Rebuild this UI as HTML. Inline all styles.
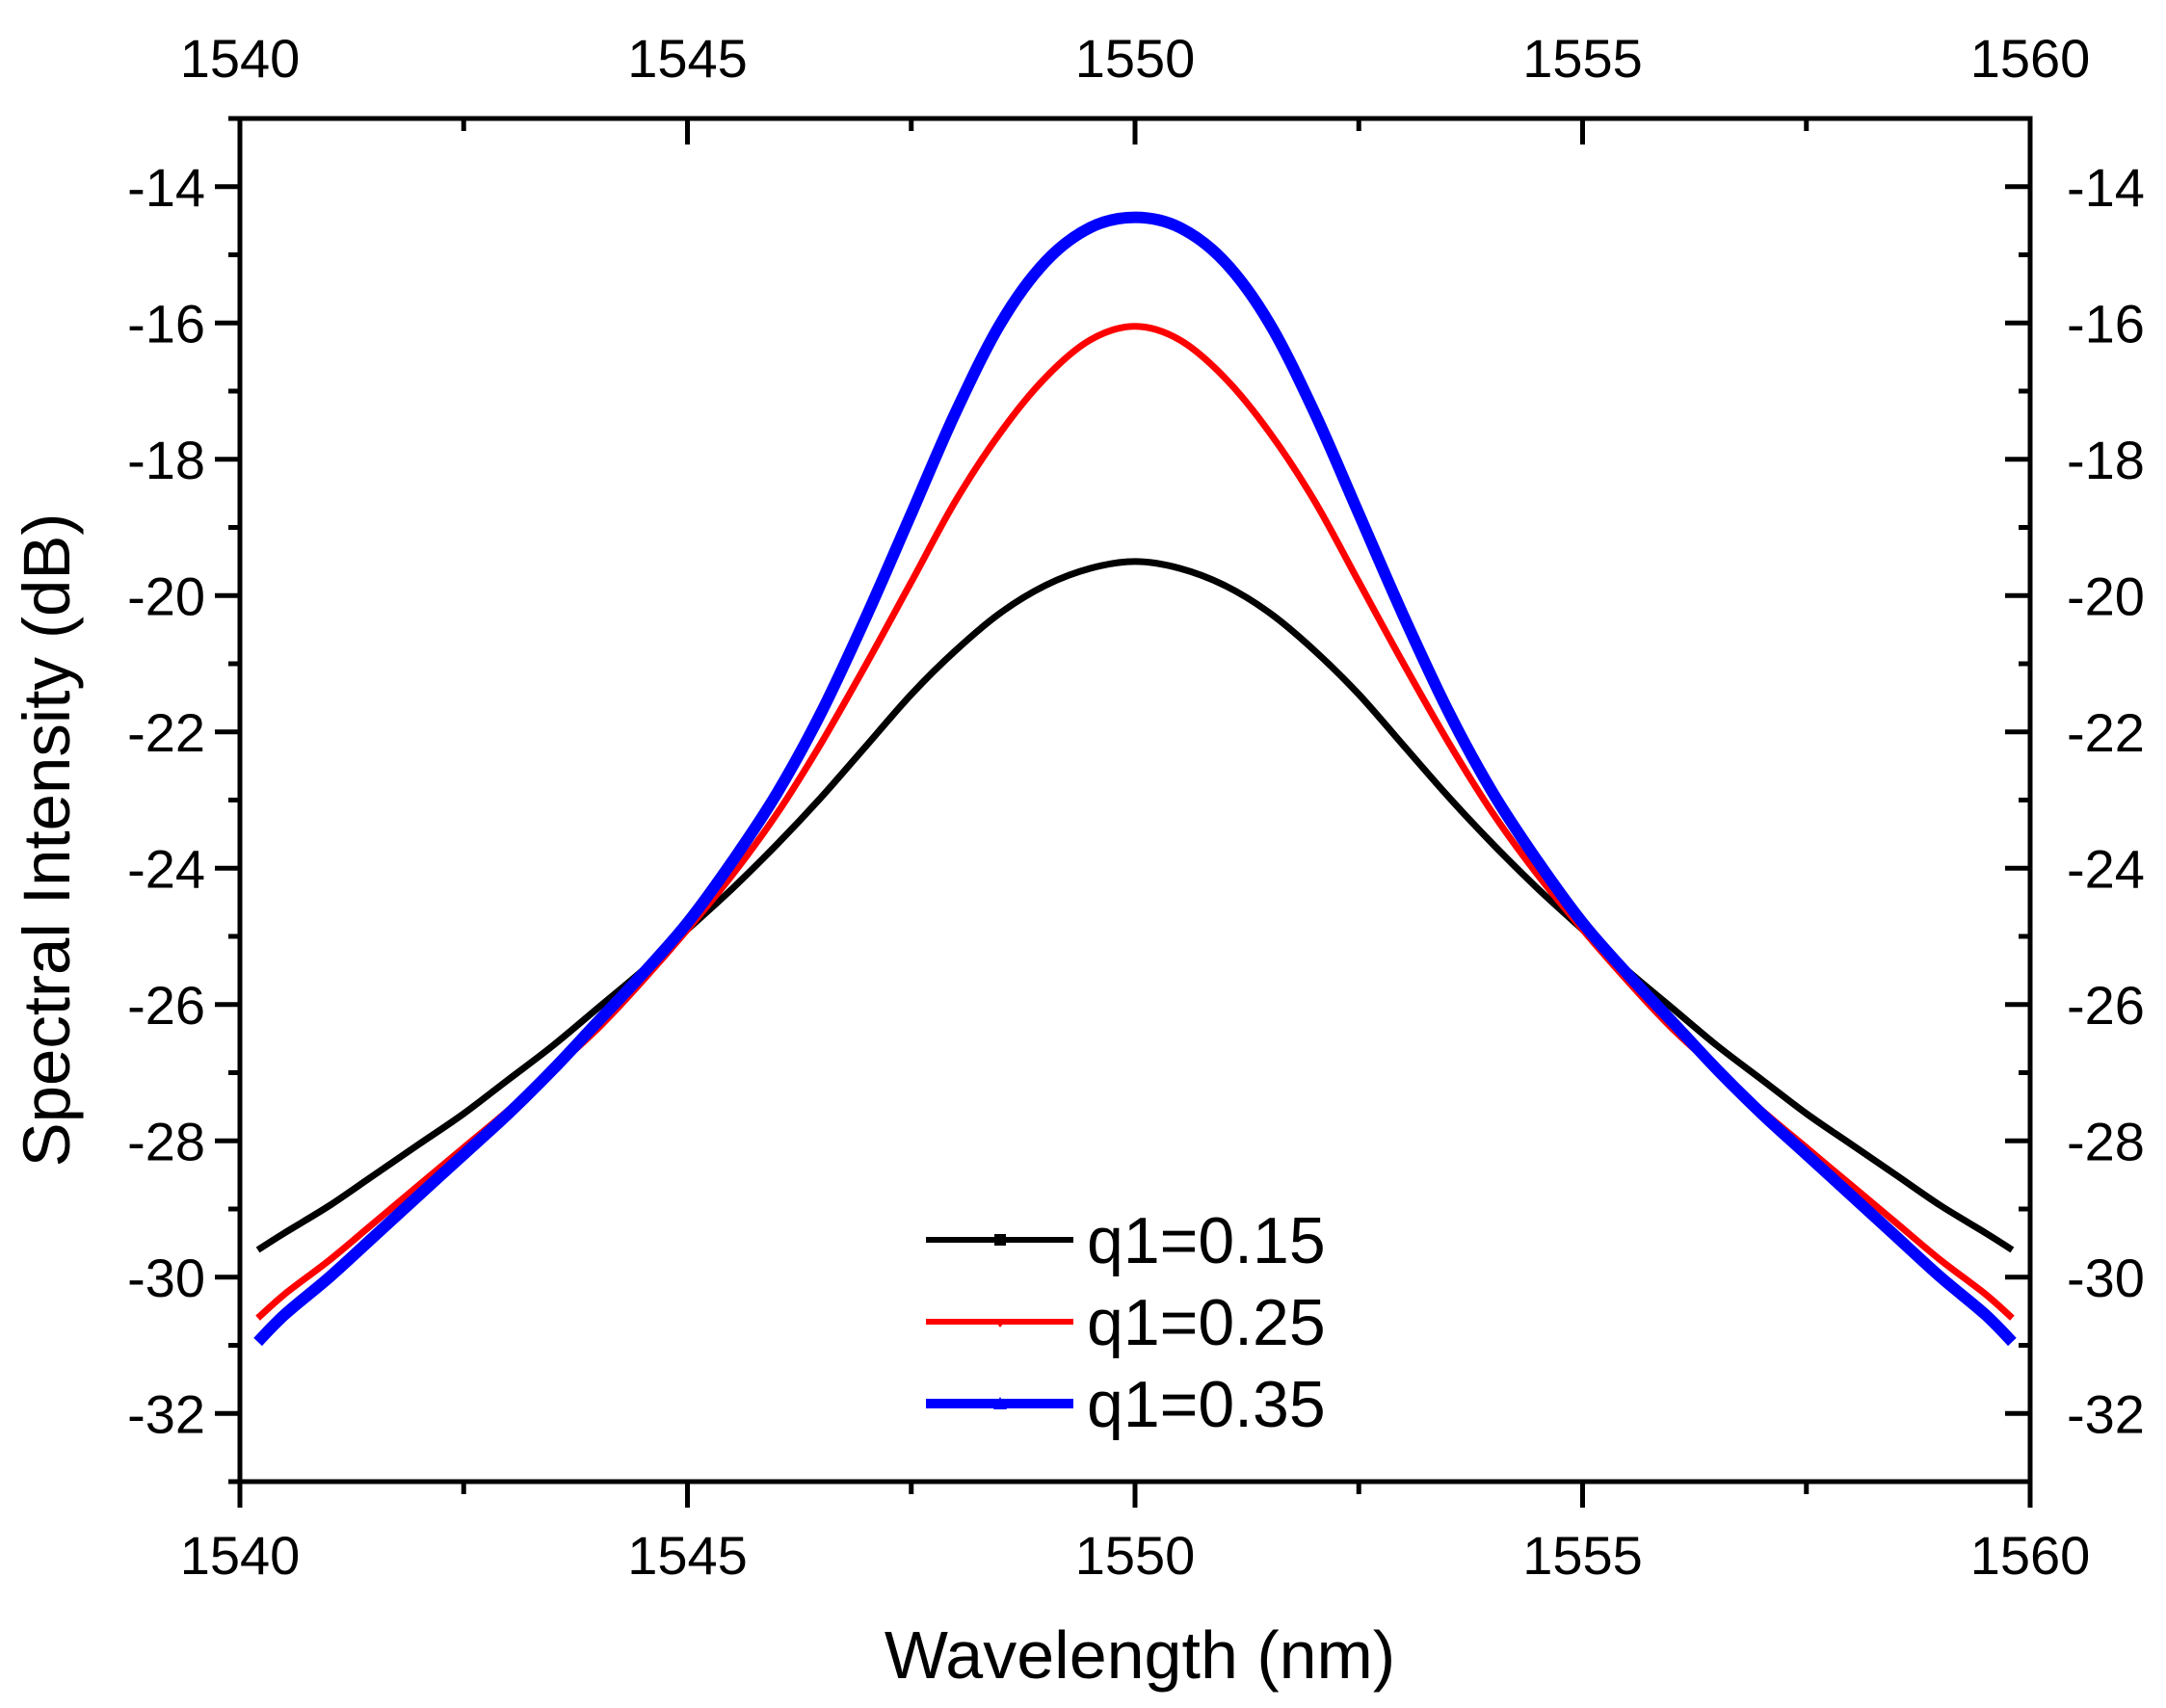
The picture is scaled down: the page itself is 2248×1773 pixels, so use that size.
<!DOCTYPE html>
<html><head><meta charset="utf-8"><style>
html,body{margin:0;padding:0;background:#fff}
svg{display:block}
text{font-family:"Liberation Sans",Arial,sans-serif;fill:#000}
</style></head><body>
<svg id="chart" width="2248" height="1773" viewBox="0 0 2248 1773" xmlns="http://www.w3.org/2000/svg">
<g id="plot"></g>
<g id="axes"></g>
<text x="1183" y="1742" font-size="70" text-anchor="middle">Wavelength (nm)</text>
<text transform="translate(72,872) rotate(-90)" font-size="69" text-anchor="middle">Spectral Intensity (dB)</text>
<g id="legend"></g>
</svg>
<script>
const wavelengths=[1540.2,1540.5,1541,1541.5,1542,1542.5,1543,1543.5,1544,1544.5,1545,1545.5,1546,1546.5,1547,1547.5,1548,1548.5,1549,1549.5,1550,1550.5,1551,1551.5,1552,1552.5,1553,1553.5,1554,1554.5,1555,1555.5,1556,1556.5,1557,1557.5,1558,1558.5,1559,1559.5,1559.8];
const seriesQ015=[-29.6,-29.35,-28.95,-28.5,-28.05,-27.6,-27.1,-26.6,-26.05,-25.5,-24.9,-24.3,-23.65,-22.95,-22.2,-21.45,-20.8,-20.25,-19.85,-19.6,-19.5,-19.6,-19.85,-20.25,-20.8,-21.45,-22.2,-22.95,-23.65,-24.3,-24.9,-25.5,-26.05,-26.6,-27.1,-27.6,-28.05,-28.5,-28.95,-29.35,-29.6];
const seriesQ025=[-30.6,-30.25,-29.75,-29.2,-28.65,-28.1,-27.55,-26.95,-26.35,-25.65,-24.9,-24.1,-23.2,-22.15,-21.0,-19.8,-18.6,-17.6,-16.8,-16.25,-16.05,-16.25,-16.8,-17.6,-18.6,-19.8,-21.0,-22.15,-23.2,-24.1,-24.9,-25.65,-26.35,-26.95,-27.55,-28.1,-28.65,-29.2,-29.75,-30.25,-30.6];
const seriesQ035=[-30.95,-30.55,-30.0,-29.4,-28.8,-28.2,-27.6,-26.95,-26.25,-25.55,-24.8,-23.9,-22.9,-21.7,-20.3,-18.8,-17.3,-16.0,-15.1,-14.6,-14.45,-14.6,-15.1,-16.0,-17.3,-18.8,-20.3,-21.7,-22.9,-23.9,-24.8,-25.55,-26.25,-26.95,-27.6,-28.2,-28.8,-29.4,-30.0,-30.55,-30.95];
const seriesNames=["q1=0.15","q1=0.25","q1=0.35"];
const xTicks=[1540,1545,1550,1555,1560];
const xTickLabels=["1540","1545","1550","1555","1560"];
const yTicks=[-14,-16,-18,-20,-22,-24,-26,-28,-30,-32];
const yTickLabels=["-14","-16","-18","-20","-22","-24","-26","-28","-30","-32"];

const NS="http://www.w3.org/2000/svg";
const L=249,R=2107,T=123,B=1538,X0=1540,X1=1560,Y0=-33,Y1=-13;
const sx=v=>L+(v-X0)/(X1-X0)*(R-L);
const sy=v=>B-(v-Y0)/(Y1-Y0)*(B-T);
function mk(tag,attrs,parent){const e=document.createElementNS(NS,tag);for(const k in attrs)e.setAttribute(k,attrs[k]);parent.appendChild(e);return e;}
const plot=document.getElementById('plot'),axes=document.getElementById('axes'),legend=document.getElementById('legend');

function smoothPath(pts){
  let d='M'+pts[0][0].toFixed(1)+','+pts[0][1].toFixed(1);
  for(let i=0;i<pts.length-1;i++){
    const p0=pts[Math.max(0,i-1)],p1=pts[i],p2=pts[i+1],p3=pts[Math.min(pts.length-1,i+2)];
    const c1=[p1[0]+(p2[0]-p0[0])/6,p1[1]+(p2[1]-p0[1])/6];
    const c2=[p2[0]-(p3[0]-p1[0])/6,p2[1]-(p3[1]-p1[1])/6];
    d+=' C'+c1[0].toFixed(1)+','+c1[1].toFixed(1)+' '+c2[0].toFixed(1)+','+c2[1].toFixed(1)+' '+p2[0].toFixed(1)+','+p2[1].toFixed(1);
  }
  return d;
}
const all=[[seriesQ015,'#000',7,'series-q1-015'],[seriesQ025,'#ff0000',7,'series-q1-025'],[seriesQ035,'#0000ff',12,'series-q1-035']];
all.forEach(s=>{
  const pts=s[0].map((v,i)=>[sx(wavelengths[i]),sy(v)]);
  const p=mk('path',{d:smoothPath(pts),fill:'none',stroke:s[1],'stroke-width':s[2],'stroke-linejoin':'round'},plot);
  
  
});

const fr=mk('rect',{x:L,y:T,width:R-L,height:B-T,fill:'none',stroke:'#000','stroke-width':5},axes);


for(let v=X0;v<=X1;v+=2.5){
  const major=(v%5===0);const len=major?27:13;const x=sx(v);
  mk('line',{x1:x,y1:B,x2:x,y2:B+len,stroke:'#000','stroke-width':5},axes);
  mk('line',{x1:x,y1:T,x2:x,y2:T+len,stroke:'#000','stroke-width':5},axes);
}
xTicks.forEach((v,i)=>{
  const b=mk('text',{x:sx(v),y:1634,'font-size':56,'text-anchor':'middle'},axes);b.textContent=xTickLabels[i];
  
  
  const t=mk('text',{x:sx(v),y:80,'font-size':56,'text-anchor':'middle'},axes);t.textContent=xTickLabels[i];
  
  
});
for(let v=Y0;v<=Y1;v+=1){
  const major=(Math.abs(v)%2===0);const len=major?26:12;const y=sy(v);
  mk('line',{x1:L,y1:y,x2:L-len,y2:y,stroke:'#000','stroke-width':5},axes);
  mk('line',{x1:R,y1:y,x2:R-len,y2:y,stroke:'#000','stroke-width':5},axes);
}
yTicks.forEach((v,i)=>{
  const a=mk('text',{x:213,y:sy(v)+20,'font-size':56,'text-anchor':'end'},axes);a.textContent=yTickLabels[i];
  
  
  const b=mk('text',{x:2145,y:sy(v)+20,'font-size':56,'text-anchor':'start'},axes);b.textContent=yTickLabels[i];
  
  
});
const ly=[1287,1372,1457];
all.forEach((s,i)=>{
  const g=mk('g',{},legend);
  
  
  mk('line',{x1:961,y1:ly[i],x2:1114,y2:ly[i],stroke:s[1],'stroke-width':i===2?10:6},g);
  if(i===0)mk('rect',{x:1032,y:ly[i]-6,width:12,height:12,fill:s[1]},g);
  else if(i===1)mk('polygon',{points:`1031,${ly[i]-3} 1045,${ly[i]-3} 1038,${ly[i]+6}`,fill:s[1]},g);
  else mk('polygon',{points:`1031,${ly[i]+6} 1045,${ly[i]+6} 1038,${ly[i]-7}`,fill:s[1]},g);
  const t=mk('text',{x:1128,y:ly[i]+24,'font-size':68},g);t.textContent=seriesNames[i];
});
</script>
</body></html>
